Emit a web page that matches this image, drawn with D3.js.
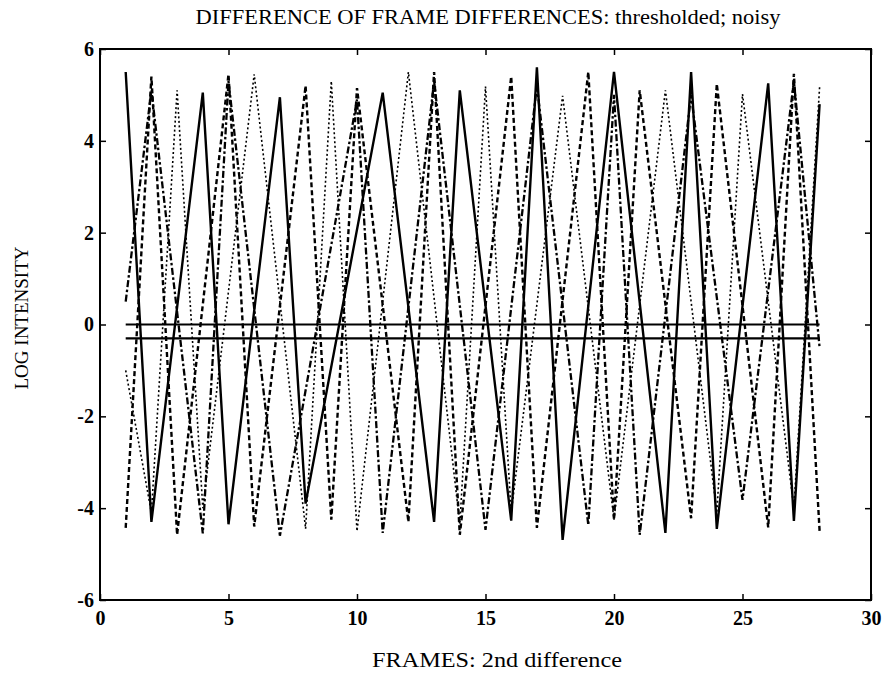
<!DOCTYPE html>
<html lang="en">
<head>
<meta charset="UTF-8">
<title>Difference of frame differences</title>
<script src="https://cdn.jsdelivr.net/npm/d3@7/dist/d3.min.js"></script>
<style>
body { margin: 0; background: #fff; }
text { font-family: "Liberation Serif", "Times New Roman", serif; fill: #000; }
</style>
</head>
<body>
<script>
// frames and values at the turning points of each trace
var solidFrames = [1, 2, 4, 5, 7, 8, 11, 13, 14, 16, 17, 18, 20, 22, 23, 24, 26, 27, 28];
var solidValues = [5.5, -4.3, 5.05, -4.35, 4.95, -3.9, 5.05, -4.3, 5.1, -4.27, 5.6, -4.69, 5.5, -4.54, 5.5, -4.45, 5.25, -4.28, 4.8];

var dashedFrames = [1, 2, 3, 5, 6, 8, 9, 10, 12, 13, 14, 16, 17, 19, 20, 21, 23, 24, 26, 27, 28];
var dashedValues = [-4.43, 5.4, -4.58, 5.45, -4.4, 5.2, -4.25, 5.15, -4.3, 5.5, -4.58, 5.4, -4.43, 5.5, -4.25, 5.1, -4.22, 5.24, -4.42, 5.46, -4.5];

var dottedFrames = [1, 2, 3, 4, 6, 8, 9, 10, 12, 14, 15, 16, 18, 20, 22, 24, 25, 27, 28];
var dottedValues = [-1.0, -4.1, 5.1, -4.0, 5.45, -4.45, 5.3, -4.5, 5.5, -4.35, 5.18, -4.1, 4.98, -4.25, 5.1, -4.1, 5.02, -4.0, 5.17];

var dashdotFrames = [1, 2, 4, 5, 7, 10, 11, 13, 15, 17, 19, 20, 21, 23, 25, 27, 28];
var dashdotValues = [0.5, 5.1, -4.55, 5.3, -4.6, 4.9, -4.54, 5.3, -4.47, 5.2, -4.37, 5.0, -4.58, 5.0, -3.82, 5.3, -0.5];

// the two flat threshold traces
var thresholdFrames = [1, 28];
var upperThreshold = [0, 0];
var lowerThreshold = [-0.3, -0.3];

var xTicks = [0, 5, 10, 15, 20, 25, 30];
var yTicks = [-6, -4, -2, 0, 2, 4, 6];

var width = 885, height = 675;
var plotLeft = 100, plotRight = 871, plotTop = 49, plotBottom = 600;

var svg = d3.select("body").append("svg").attr("width", width).attr("height", height);
svg.append("rect").attr("width", width).attr("height", height).attr("fill", "#fff");

var x = d3.scaleLinear().domain([0, 30]).range([plotLeft, plotRight]);
var y = d3.scaleLinear().domain([-6, 6]).range([plotBottom, plotTop]);

var traces = [
	{frames: dottedFrames, values: dottedValues, width: 1.6, dash: "2,2.5"},
	{frames: dashdotFrames, values: dashdotValues, width: 2.3, dash: "7,2.5,2.5,2.5"},
	{frames: dashedFrames, values: dashedValues, width: 2.4, dash: "5,3"},
	{frames: solidFrames, values: solidValues, width: 2.4, dash: null},
	{frames: thresholdFrames, values: upperThreshold, width: 2.2, dash: null},
	{frames: thresholdFrames, values: lowerThreshold, width: 2.2, dash: null}
];

var line = d3.line().x(function(d){ return x(d[0]); }).y(function(d){ return y(d[1]); });

svg.append("g").selectAll("path").data(traces).enter().append("path")
	.attr("d", function(t){ return line(d3.zip(t.frames, t.values)); })
	.attr("fill", "none")
	.attr("stroke", "#000")
	.attr("stroke-width", function(t){ return t.width; })
	.attr("stroke-dasharray", function(t){ return t.dash; })
	.attr("stroke-linejoin", "miter");

//axes, ticks pointing inward
var fmt = function(d){ return String(d); };
var gx = svg.append("g").attr("transform", "translate(0," + plotBottom + ")")
	.call(d3.axisBottom(x).tickValues(xTicks).tickFormat(fmt).tickSize(-6).tickSizeOuter(0).tickPadding(11));
var gy = svg.append("g").attr("transform", "translate(" + plotLeft + ",0)")
	.call(d3.axisLeft(y).tickValues(yTicks).tickFormat(fmt).tickSize(-6).tickSizeOuter(0).tickPadding(6));
var gt = svg.append("g").attr("transform", "translate(0," + plotTop + ")")
	.call(d3.axisTop(x).tickValues(xTicks).tickFormat("").tickSize(-6).tickSizeOuter(0));
var gr = svg.append("g").attr("transform", "translate(" + plotRight + ",0)")
	.call(d3.axisRight(y).tickValues(yTicks).tickFormat("").tickSize(-6).tickSizeOuter(0));

[gx, gy, gt, gr].forEach(function(g){
	g.select(".domain").remove();
	g.selectAll(".tick line").attr("stroke", "#000").attr("stroke-width", 1.5);
	g.selectAll(".tick text").attr("font-size", 20).attr("font-weight", "bold")
		.attr("font-family", "'Liberation Serif', 'Times New Roman', serif").attr("fill", "#000");
});

svg.append("rect").attr("x", plotLeft).attr("y", plotTop).attr("width", plotRight - plotLeft).attr("height", plotBottom - plotTop)
	.attr("fill", "none").attr("stroke", "#000").attr("stroke-width", 2);

//labels
svg.append("text").attr("x", 488).attr("y", 24).attr("text-anchor", "middle")
	.attr("font-size", 20).attr("textLength", 585).attr("lengthAdjust", "spacingAndGlyphs")
	.text("DIFFERENCE OF FRAME DIFFERENCES: thresholded; noisy");
svg.append("text").attr("x", 497).attr("y", 667).attr("text-anchor", "middle")
	.attr("font-size", 21).attr("textLength", 250).attr("lengthAdjust", "spacingAndGlyphs")
	.text("FRAMES: 2nd difference");
svg.append("text").attr("transform", "translate(28,318) rotate(-90)").attr("text-anchor", "middle")
	.attr("font-size", 19)
	.text("LOG INTENSITY");
</script>
</body>
</html>
